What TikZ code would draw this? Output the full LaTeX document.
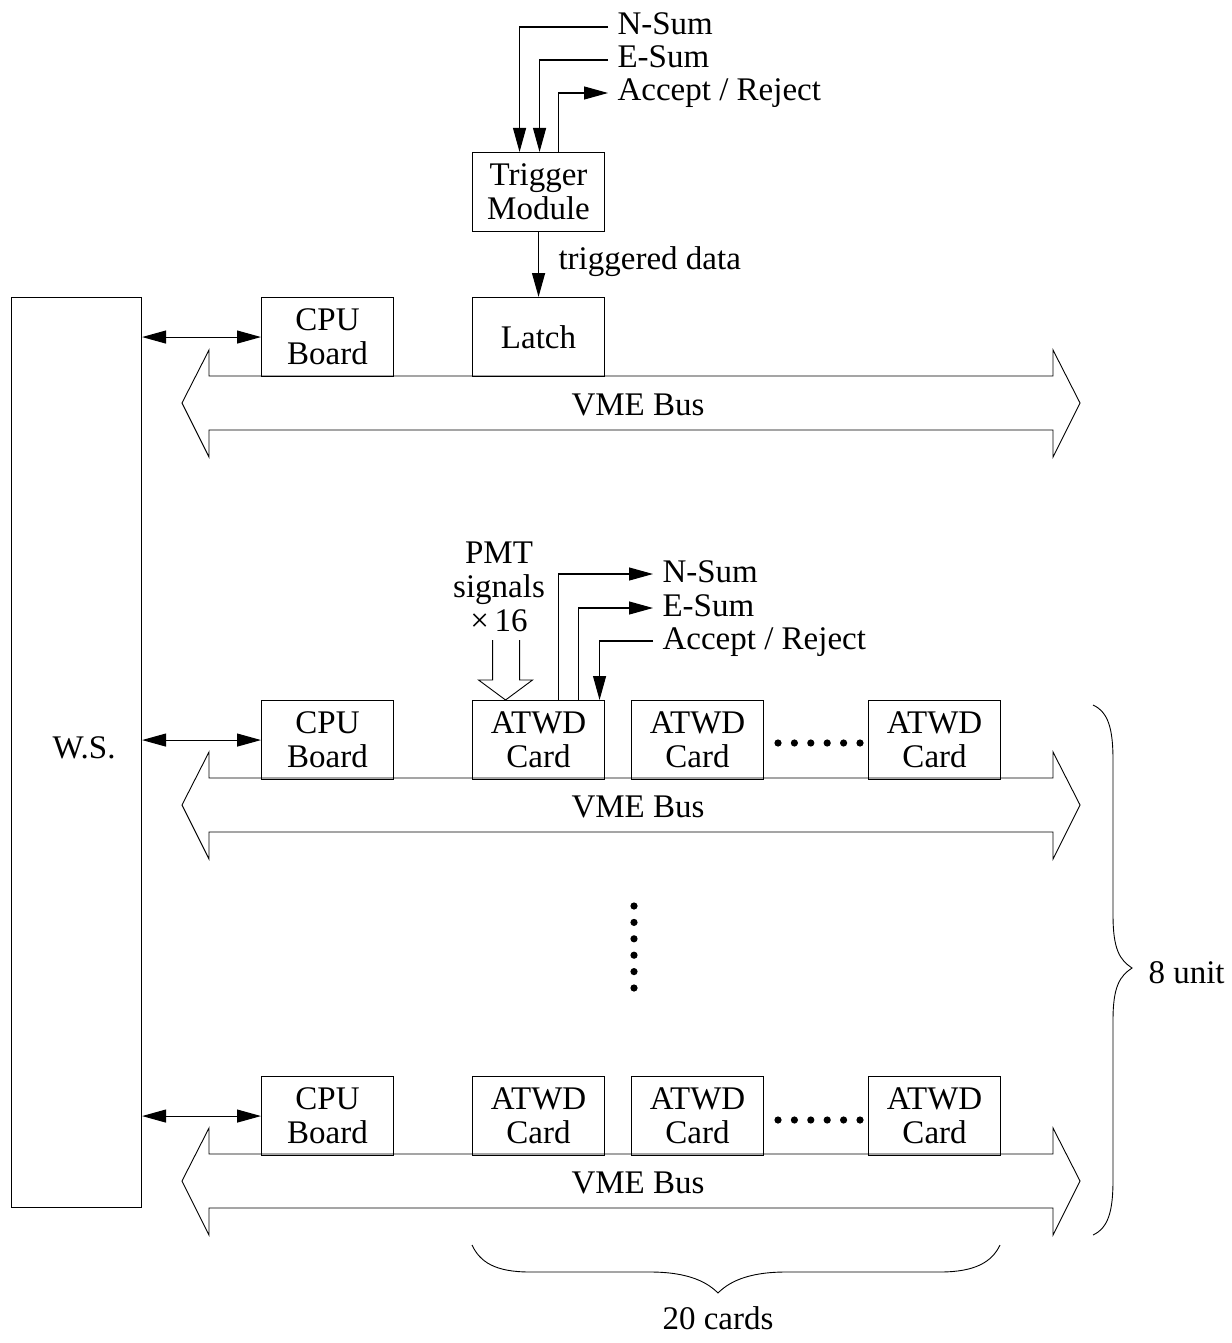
\documentclass[tikz,border=0pt]{standalone}
\usepackage{fontspec}
\setmainfont{Liberation Serif}
\usetikzlibrary{arrows.meta,calc}
\begin{document}
\begin{tikzpicture}[x=1pt,y=-1pt, line width=1.1pt, line join=miter,
  every node/.style={font=\fontsize{33}{34}\selectfont},
  box/.style={draw, minimum width=132pt, minimum height=79pt, inner sep=0pt, align=center, anchor=north west},
  lab/.style={anchor=west, inner xsep=9pt, inner ysep=0pt, text height=22pt, text depth=6pt},
  arr/.style={-{Triangle[length=24pt,width=13pt]}},
  arrb/.style={{Triangle[length=24pt,width=13pt]}-{Triangle[length=24pt,width=13pt]}},
  thinl/.style={line width=0.9pt}]
\useasboundingbox (0,0) rectangle (1231,1343);

% workstation
\node[draw, minimum width=130pt, minimum height=910pt, anchor=north west, inner sep=0pt] (ws) at (11,297) {};
\node (wsl) at (84,748) {W.S.};

% top unit
\node[box] (trig) at (472,152) {Trigger\\Module};
\node[box] (cpu1) at (261,297) {CPU\\Board};
\node[box] (latch) at (472,297) {Latch};
\node[lab] (tn) at (608,27) {N-Sum};
\node[lab] (te) at (608,60) {E-Sum};
\node[lab] (ta) at (608,93) {Accept / Reject};
\draw[arr] (tn.west) -| ([xshift=-19pt]trig.north);
\draw[arr] (te.west) -| ([xshift=1pt]trig.north);
\draw[arr] ([xshift=20pt]trig.north) |- (ta.west);
\draw[arr, line width=1.4pt] (trig.south) -- (latch.north);
\node[anchor=west, inner sep=0pt] (td) at (558,262) {triggered data};

% middle unit
\node[box] (cpu2) at (261,700) {CPU\\Board};
\node[box] (atwd1) at (472,700) {ATWD\\Card};
\node[box] (atwd2) at (631,700) {ATWD\\Card};
\node[box] (atwd3) at (868,700) {ATWD\\Card};
\node[lab] (mn) at (653,574) {N-Sum};
\node[lab] (me) at (653,608) {E-Sum};
\node[lab] (ma) at (653,641) {Accept / Reject};
\draw[arr] ([xshift=20pt]atwd1.north) |- (mn.west);
\draw[arr] ([xshift=40pt]atwd1.north) |- (me.west);
\draw[arr] (ma.west) -| ([xshift=61pt]atwd1.north);
\node[align=center, inner sep=0pt] (pmt) at (499,587) {PMT\\signals\\×\,16};
\coordinate (pt) at ([xshift=-33pt]atwd1.north);
\draw[thinl] ($(pt)+(-13,-60)$) -- ++(0,40) -- ++(-14,0) -- (pt) -- ++(27,-20) -- ++(-13,0) -- ++(0,-40);

% bottom unit
\node[box] (cpu3) at (261,1076) {CPU\\Board};
\node[box] (atwd4) at (472,1076) {ATWD\\Card};
\node[box] (atwd5) at (631,1076) {ATWD\\Card};
\node[box] (atwd6) at (868,1076) {ATWD\\Card};

% ws <-> cpu
\draw[arrb] (ws.east |- cpu1.west) -- (cpu1.west);
\draw[arrb] (ws.east |- cpu2.west) -- (cpu2.west);
\draw[arrb] (ws.east |- cpu3.west) -- (cpu3.west);

% buses
\foreach \t/\n in {376/1,778/2,1154/3}{
  \draw[thinl] (209,\t) -- (1053,\t) -- (1053,{\t-26}) -- (1080,{\t+27}) -- (1053,{\t+81}) -- (1053,{\t+54})
     -- (209,{\t+54}) -- (209,{\t+81}) -- (182,{\t+27}) -- (209,{\t-26}) -- cycle;
  \node (vme\n) at (638,{\t+29}) {VME Bus};
}

% dots
\foreach \i in {0,...,5}{
  \fill (778+\i*16.4,743) circle (3.6pt);
  \fill (778+\i*16.4,1120) circle (3.6pt);
  \fill (634,906+\i*16.4) circle (3.6pt);
}

% braces
\draw[thinl] (1093,705) .. controls (1108,712) and (1113,728) .. (1113,760) -- (1113,915)
  .. controls (1113,950) and (1120,960) .. (1132,968) .. controls (1120,976) and (1113,986) .. (1113,1020)
  -- (1113,1180) .. controls (1113,1212) and (1108,1228) .. (1093,1235);
\node[anchor=west, inner sep=0pt] (unit) at (1148,973) {8 unit};
\draw[thinl] (472,1245) .. controls (480,1262) and (495,1272) .. (530,1272) -- (650,1272)
  .. controls (690,1272) and (708,1283) .. (718,1293) .. controls (728,1283) and (746,1272) .. (786,1272)
  -- (940,1272) .. controls (975,1272) and (992,1262) .. (1000,1245);
\node (cards) at (718,1318) {20 cards};
\end{tikzpicture}
\end{document}
